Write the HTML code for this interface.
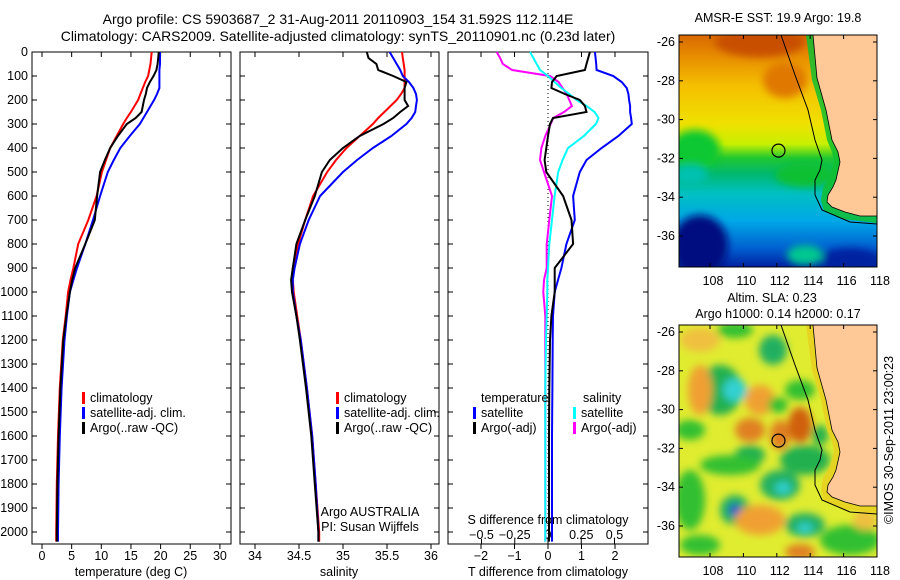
<!DOCTYPE html>
<html><head><meta charset="utf-8">
<style>
html,body{margin:0;padding:0;background:#fff;}
svg{display:block;font-family:"Liberation Sans",sans-serif;}
text{font-size:12.5px;fill:#000;}
</style></head>
<body>
<svg id="fig" width="900" height="580" viewBox="0 0 900 580" xmlns="http://www.w3.org/2000/svg">
<defs>
<linearGradient id="sstg" x1="0" y1="0" x2="0" y2="1">
<stop offset="0" stop-color="#d86800"/><stop offset="0.1" stop-color="#e89000"/>
<stop offset="0.22" stop-color="#f4c000"/><stop offset="0.38" stop-color="#f0e000"/>
<stop offset="0.47" stop-color="#c8f000"/><stop offset="0.53" stop-color="#20c830"/>
<stop offset="0.6" stop-color="#00b870"/><stop offset="0.68" stop-color="#00c0c0"/>
<stop offset="0.8" stop-color="#00a8e8"/><stop offset="0.92" stop-color="#0060d0"/>
<stop offset="1" stop-color="#0020a0"/></linearGradient>
<filter id="bl" x="-50%" y="-50%" width="200%" height="200%"><feGaussianBlur stdDeviation="4"/></filter>
<clipPath id="m1c"><rect x="679" y="35" width="198" height="232"/></clipPath>
<clipPath id="m2c"><rect x="679" y="325" width="198" height="232"/></clipPath>
</defs>
<g id="texts">
<text x="338" y="24" text-anchor="middle" style="font-size:14px">Argo profile: CS 5903687_2 31-Aug-2011 20110903_154 31.592S 112.114E</text>
<text x="338" y="41" text-anchor="middle" style="font-size:14px">Climatology: CARS2009. Satellite-adjusted climatology: synTS_20110901.nc (0.23d later)</text>
</g>
<g id="plots"></g>
<g id="maps"></g>
<text transform="translate(893,440) rotate(-90)" text-anchor="middle">©IMOS 30-Sep-2011 23:00:23</text>
</svg>
<script>
// depth levels (m)
const depthTop = [0,25,50,75,100,125,150,175,200,225,250,275,300,350,400,450,500,600,700,800,900,950,1000,1100,1200,1400,1600,1800,2000,2040];
const tempClim = [18.5,18.4,18.3,18.1,17.9,17.4,17.0,16.6,16.2,15.6,15.0,14.3,13.7,12.6,11.5,10.8,10.1,9.2,7.8,6.1,5.3,4.8,4.4,4.0,3.5,3.0,2.7,2.5,2.4,2.4];
const tempSat  = [19.9,19.9,19.9,19.8,19.8,19.8,19.8,19.4,18.9,18.3,17.7,17.1,16.5,14.8,13.2,12.1,11.1,9.8,8.6,7.3,5.9,5.3,4.7,4.2,3.8,3.3,3.0,2.8,2.7,2.7];
const tempArgo = [19.7,19.6,19.5,19.3,18.8,18.2,17.7,17.5,17.2,17.0,16.8,15.8,14.3,12.8,11.5,10.6,9.8,9.3,8.9,7.3,5.6,5.1,4.7,4.1,3.6,3.1,2.8,2.6,2.5,2.5];
const salClim = [35.67,35.68,35.69,35.70,35.70,35.70,35.70,35.66,35.61,35.54,35.47,35.40,35.34,35.19,35.04,34.92,34.82,34.66,34.57,34.49,34.43,34.43,34.44,34.48,34.52,34.59,34.65,34.69,34.73,34.73];
const salSat  = [35.53,35.57,35.61,35.65,35.68,35.75,35.80,35.83,35.84,35.83,35.82,35.78,35.72,35.55,35.34,35.16,35.00,34.74,34.61,34.51,34.45,34.43,34.43,34.47,34.52,34.59,34.65,34.69,34.72,34.72];
const salArgo = [35.27,35.29,35.38,35.40,35.57,35.72,35.70,35.70,35.70,35.74,35.65,35.57,35.46,35.19,35.00,34.85,34.76,34.68,34.57,34.47,34.43,34.41,34.42,34.47,34.51,34.58,34.64,34.68,34.72,34.72];
const dTsat  = [1.4,1.42,1.44,1.45,1.95,2.2,2.35,2.4,2.42,2.45,2.45,2.48,2.5,2.1,1.6,1.15,0.95,0.75,0.8,0.55,0.4,0.3,0.2,0.15,0.14,0.13,0.12,0.12,0.12,0.12];
const dTargo = [1.25,1.2,1.15,1.1,0.26,0.12,0.1,0.5,0.95,1.1,1.15,0.15,0.06,0.0,-0.05,-0.1,-0.05,0.45,0.7,0.75,0.2,0.2,0.2,0.1,0.06,0.04,0.03,0.03,0.03,0.03];
const dSsat  = [-0.135,-0.11,-0.085,-0.06,0.0,0.05,0.1,0.16,0.215,0.29,0.35,0.38,0.36,0.27,0.15,0.11,0.077,0.05,0.03,0.01,0.0,-0.005,-0.005,-0.01,-0.015,-0.02,-0.02,-0.02,-0.02,-0.02];
const dSargo = [-0.386,-0.36,-0.34,-0.27,0.015,0.08,0.11,0.14,0.16,0.18,0.12,0.04,0.02,-0.02,-0.05,-0.06,-0.03,0.03,0.01,-0.01,-0.01,-0.03,-0.035,-0.02,-0.02,-0.02,-0.02,-0.02,-0.02,-0.02];
const depthTicks = [0,100,200,300,400,500,600,700,800,900,1000,1100,1200,1300,1400,1500,1600,1700,1800,1900,2000];
const tTicks = [0,5,10,15,20,25,30];
const sTicks = [34,34.5,35,35.5,36];
const dTTicks = [-2,-1,0,1,2];
const dSTicks = [-0.5,-0.25,0,0.25,0.5];
const dSTickLabels = ['−0.5','−0.25','0','0.25','0.5'];
const lonTicks = [108,110,112,114,116,118];
const latTicks = [-26,-28,-30,-32,-34,-36];

const NS='http://www.w3.org/2000/svg';
function mk(tag, attrs, parent, txt){const e=document.createElementNS(NS,tag);for(const k in attrs)e.setAttribute(k,attrs[k]);if(txt!==undefined)e.textContent=txt;parent.appendChild(e);return e;}
const yD = d => 52 + d*0.24;
const xT = t => 42 + t*5.93;
const xS = s => 255 + (s-34)*88;
const xdT = v => 548 + v*33.5;
const xdS = v => 548 + v*133;
const plots=document.getElementById('plots');

function panel(name,x0,x1){
  const r=mk('rect',{x:x0,y:52,width:x1-x0,height:492,fill:'none',stroke:'#000','stroke-width':1},plots);
  
  
  depthTicks.forEach(d=>{mk('line',{x1:x0,x2:x0+5,y1:yD(d),y2:yD(d),stroke:'#000'},plots);mk('line',{x1:x1,x2:x1-5,y1:yD(d),y2:yD(d),stroke:'#000'},plots);});
}
function line(xf,vals,color,name,w){
  const pts=vals.map((v,i)=>xf(v).toFixed(1)+','+yD(depthTop[i]).toFixed(1)).join(' ');
  const p=mk('polyline',{points:pts,fill:'none',stroke:color,'stroke-width':w||2},plots);
  
  
}
panel('temperature-panel',32,231);
panel('salinity-panel',240,439);
panel('difference-panel',448,648);
depthTicks.forEach(d=>{const t=mk('text',{x:28,y:yD(d)+4,'text-anchor':'end'},plots,String(d));
  
  });
tTicks.forEach(v=>{mk('line',{x1:xT(v),x2:xT(v),y1:52,y2:57,stroke:'#000'},plots);mk('line',{x1:xT(v),x2:xT(v),y1:544,y2:549,stroke:'#000'},plots);
  const t=mk('text',{x:xT(v),y:560,'text-anchor':'middle'},plots,String(v));
  
  });
sTicks.forEach(v=>{mk('line',{x1:xS(v),x2:xS(v),y1:52,y2:57,stroke:'#000'},plots);mk('line',{x1:xS(v),x2:xS(v),y1:544,y2:549,stroke:'#000'},plots);
  const t=mk('text',{x:xS(v),y:560,'text-anchor':'middle'},plots,String(v));
  
  });
dTTicks.forEach(v=>{mk('line',{x1:xdT(v),x2:xdT(v),y1:52,y2:57,stroke:'#000'},plots);mk('line',{x1:xdT(v),x2:xdT(v),y1:544,y2:549,stroke:'#000'},plots);
  const t=mk('text',{x:xdT(v),y:560,'text-anchor':'middle'},plots,String(v).replace('-','−'));
  
  });
dSTicks.forEach((v,i)=>{mk('line',{x1:xdS(v),x2:xdS(v),y1:544,y2:539,stroke:'#000'},plots);
  const t=mk('text',{x:xdS(v),y:539,'text-anchor':'middle'},plots,dSTickLabels[i]);
  
  });
mk('line',{x1:548,x2:548,y1:53,y2:543,stroke:'#000','stroke-dasharray':'1,3'},plots);

line(xT,tempClim,'#f00','temp-climatology-line');
line(xT,tempSat,'#00f','temp-satellite-line');
line(xT,tempArgo,'#000','temp-argo-line');
line(xS,salClim,'#f00','sal-climatology-line');
line(xS,salSat,'#00f','sal-satellite-line');
line(xS,salArgo,'#000','sal-argo-line');
line(xdS,dSargo,'#f0f','s-diff-argo-line');
line(xdS,dSsat,'#0ff','s-diff-satellite-line');
line(xdT,dTsat,'#00f','t-diff-satellite-line');
line(xdT,dTargo,'#000','t-diff-argo-line');

function lab(x,y,s,name,anchor){const t=mk('text',{x:x,y:y,'text-anchor':anchor||'start'},plots,s);
  
  }
function bar(x,y,c){mk('rect',{x:x,y:y-10,width:3,height:12,fill:c},plots);}
[[82,'climatology','#f00'],[82,'satellite-adj. clim.','#00f'],[82,'Argo(..raw -QC)','#000']].forEach((e,i)=>{bar(82,402+15*i,e[2]);lab(90,402+15*i,e[1],'legend-entry');bar(336,402+15*i,e[2]);lab(344,402+15*i,e[1],'legend-entry');});
lab(481,402,'temperature','legend-title-temperature');lab(583,402,'salinity','legend-title-salinity');
bar(473,417,'#00f');lab(481,417,'satellite','legend-entry');bar(573,417,'#0ff');lab(581,417,'satellite','legend-entry');
bar(473,432,'#000');lab(481,432,'Argo(-adj)','legend-entry');bar(573,432,'#f0f');lab(581,432,'Argo(-adj)','legend-entry');
lab(131,576,'temperature (deg C)','temperature-axis-title','middle');
lab(339,576,'salinity','salinity-axis-title','middle');
lab(548,576,'T difference from climatology','t-diff-axis-title','middle');
lab(548,524,'S difference from climatology','s-diff-axis-title','middle');
lab(370,516,'Argo AUSTRALIA','argo-agency-label','middle');
lab(370,531,'PI: Susan Wijffels','pi-label','middle');

// maps
const maps=document.getElementById('maps');
const lonX = lon => 710 + (lon-108)*16.7;
const latY = (lat,top) => top + 7 + (-26-lat)*19.4;
function coast(g,top){
  const off=top-35;
  const land=[[813,35],[817,78],[826,110],[832,140],[838,152],[840,162],[836,180],[833,187],[828,195],[827,202],[832,207],[845,212],[860,216],[877,216],[877,35]];
  const shelf=[[806,35],[812,80],[821,110],[827,140],[832,152],[834,162],[829,178],[823,188],[821,200],[824,211],[842,219],[877,223],[877,216],[860,216],[845,212],[832,207],[827,202],[828,195],[833,187],[836,180],[840,162],[838,152],[832,140],[826,110],[817,78],[813,35]];
  mk('polygon',{points:shelf.map(p=>p[0]+','+(p[1]+off)).join(' '),fill:top===35?'#10c030':'#e8d020',opacity:0.85},g);
  mk('polygon',{points:land.map(p=>p[0]+','+(p[1]+off)).join(' '),fill:'#ffc896',stroke:'#000','stroke-width':0.8},g);
  const iso=[[781,35],[795,75],[808,110],[815,140],[822,160],[820,170],[815,180],[815,195],[822,210],[850,222],[877,224]];
  mk('polyline',{points:iso.map(p=>p[0]+','+(p[1]+off)).join(' '),fill:'none',stroke:'#000','stroke-width':1},g);
}
function axes(g,top,name){
  const r=mk('rect',{x:679,y:top,width:198,height:232,fill:'none',stroke:'#000'},g);
  
  
  lonTicks.forEach(v=>{mk('line',{x1:lonX(v),x2:lonX(v),y1:top,y2:top+4,stroke:'#000'},g);mk('line',{x1:lonX(v),x2:lonX(v),y1:top+232,y2:top+228,stroke:'#000'},g);
    const t=mk('text',{x:lonX(v)+3,y:top+250,'text-anchor':'middle'},g,String(v));
    
    });
  latTicks.forEach(v=>{const y=latY(v,top);mk('line',{x1:679,x2:683,y1:y,y2:y,stroke:'#000'},g);mk('line',{x1:877,x2:873,y1:y,y2:y,stroke:'#000'},g);
    const t=mk('text',{x:675,y:y+4,'text-anchor':'end'},g,String(v));
    
    });
  const c=mk('circle',{cx:lonX(112.1),cy:latY(-31.6,top),r:6.5,fill:'none',stroke:'#000','stroke-width':1.2},g);
  
  
}
// map 1 SST
const g1=mk('g',{'clip-path':'url(#m1c)'},maps);


mk('rect',{x:679,y:35,width:198,height:232,fill:'url(#sstg)'},g1);
const b1=mk('g',{filter:'url(#bl)'},g1);
mk('ellipse',{cx:760,cy:42,rx:45,ry:15,fill:'#c85000'},b1);
mk('ellipse',{cx:785,cy:80,rx:22,ry:18,fill:'#e07800'},b1);
mk('ellipse',{cx:695,cy:150,rx:25,ry:20,fill:'#10c830'},b1);
mk('ellipse',{cx:690,cy:175,rx:18,ry:10,fill:'#00c0b0'},b1);
mk('ellipse',{cx:805,cy:175,rx:30,ry:12,fill:'#10c030'},b1);
mk('ellipse',{cx:700,cy:245,rx:28,ry:30,fill:'#000c80'},b1);
mk('ellipse',{cx:850,cy:260,rx:30,ry:12,fill:'#0020a0'},b1);
mk('ellipse',{cx:805,cy:255,rx:18,ry:10,fill:'#00c890'},b1);
coast(g1,35);
axes(maps,35,'sst-map-frame');
const tm1=mk('text',{x:778,y:22,'text-anchor':'middle'},maps,'AMSR-E SST: 19.9 Argo: 19.8');


// map 2 SLA
const g2=mk('g',{'clip-path':'url(#m2c)'},maps);


mk('rect',{x:679,y:325,width:198,height:232,fill:'#e0ec30'},g2);
const b2=mk('g',{filter:'url(#bl)'},g2);
[[700,340,20,12,'#f0c040'],[735,330,18,8,'#30c030'],[773,350,14,15,'#20b060'],[720,390,22,25,'#20b050'],[735,390,12,12,'#30d0d0'],
 [700,390,12,25,'#f0a030'],[760,400,15,15,'#f0a030'],[800,390,15,10,'#30c030'],[778,405,10,8,'#30c030'],
 [750,430,15,12,'#e08020'],[780,435,10,15,'#e08020'],[800,425,12,18,'#d06010'],[820,435,8,10,'#20b050'],
 [690,430,15,10,'#30c030'],[750,455,15,10,'#20b050'],[730,465,30,10,'#30c030'],[805,460,25,15,'#20b050'],
 [780,485,20,15,'#20b060'],[783,488,8,6,'#30d0d0'],[735,510,15,15,'#20b060'],[735,510,6,6,'#2050d0'],
 [760,520,25,15,'#f0a030'],[805,525,20,12,'#20b060'],[805,528,8,5,'#30d0d0'],[690,500,15,30,'#30c030'],
 [800,552,15,8,'#e08020'],[850,540,30,15,'#30c030'],[865,520,12,10,'#f0c040'],[700,545,20,10,'#30c030']
].forEach(e=>mk('ellipse',{cx:e[0],cy:e[1],rx:e[2],ry:e[3],fill:e[4]},b2));
coast(g2,325);
axes(maps,325,'sla-map-frame');
const tm2=mk('text',{x:772,y:302,'text-anchor':'middle'},maps,'Altim. SLA: 0.23');


const tm3=mk('text',{x:778,y:318,'text-anchor':'middle'},maps,'Argo h1000: 0.14 h2000: 0.17');


</script>
</body></html>
